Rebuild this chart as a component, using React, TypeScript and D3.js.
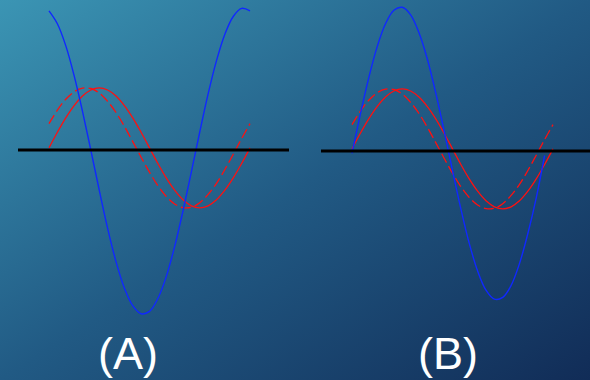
// Two panels of phase diagrams: (A) and (B), each with a large blue wave and
// two red waves (solid and dashed) drawn across one period over a black axis.
import React from 'react';
import * as d3 from 'd3';

const W = 590;
const H = 380;

const angles = [0, 15, 30, 45, 60, 75, 90, 105, 120, 135, 150, 165, 180,
  195, 210, 225, 240, 255, 270, 285, 300, 315, 330, 345, 360];

const panelLabels = ['(A)', '(B)'];

// panel A
const blueA = [4.64, 4.21, 3.48, 2.48, 1.29, -0.01, -1.34, -2.61, -3.72, -4.6, -5.19, -5.46, -5.38,
  -4.95, -4.22, -3.22, -2.03, -0.73, 0.6, 1.87, 2.98, 3.86, 4.45, 4.72, 4.64];
const redSolidA = [0.07, 0.59, 1.07, 1.48, 1.8, 2.0, 2.07, 2.0, 1.8, 1.48, 1.07, 0.59, 0.07,
  -0.45, -0.93, -1.34, -1.66, -1.86, -1.93, -1.86, -1.66, -1.34, -0.93, -0.45, 0.07];
const redDashA = [0.88, 1.33, 1.69, 1.94, 2.06, 2.05, 1.9, 1.62, 1.25, 0.79, 0.28, -0.24, -0.74,
  -1.19, -1.55, -1.8, -1.92, -1.91, -1.76, -1.48, -1.11, -0.65, -0.14, 0.38, 0.88];

// panel B (the blue wave stops a little short of the red ones)
const blueB = [-0.08, 1.23, 2.44, 3.47, 4.24, 4.69, 4.79, 4.54, 3.94, 3.06, 1.94, 0.67, -0.65,
  -1.93, -3.08, -4.0, -4.64, -4.94, -4.88, -4.48, -3.75, -2.75, -1.56, -0.15];
const redSolidB = [0.07, 0.59, 1.07, 1.48, 1.8, 2.0, 2.07, 2.0, 1.8, 1.48, 1.07, 0.59, 0.07,
  -0.45, -0.93, -1.34, -1.66, -1.86, -1.93, -1.86, -1.66, -1.34, -0.93, -0.45, 0.07];
const redDashB = [0.88, 1.33, 1.69, 1.94, 2.06, 2.05, 1.9, 1.62, 1.25, 0.79, 0.28, -0.24, -0.74,
  -1.19, -1.55, -1.8, -1.92, -1.91, -1.76, -1.48, -1.11, -0.65, -0.14, 0.38, 0.88];

const panels = [
  { label: panelLabels[0], blue: blueA, solid: redSolidA, dash: redDashA,
    x0: 49, x1: 250, axisX0: 18, axisX1: 289, axisY: 150, labelX: 128 },
  { label: panelLabels[1], blue: blueB, solid: redSolidB, dash: redDashB,
    x0: 352, x1: 553, axisX0: 321, axisX1: 592, axisY: 151, labelX: 448 },
];

function Panel({ p }) {
  const x = d3.scaleLinear().domain([0, 360]).range([p.x0, p.x1]);
  const y = d3.scaleLinear().domain([-1, 1]).range([p.axisY + 30, p.axisY - 30]);
  const line = d3.line<[number, number]>()
    .x(d => x(d[0]))
    .y(d => y(d[1]))
    .curve(d3.curveCatmullRom);
  const pts = (vals: number[]) => vals.map((v, i) => [angles[i], v] as [number, number]);

  return (
    <g>
      <path d={line(pts(p.solid)) || ''} fill="none" stroke="#ff1010" strokeWidth={1.3} />
      <path d={line(pts(p.dash)) || ''} fill="none" stroke="#ff1010" strokeWidth={1.3}
        strokeDasharray="10,4" />
      <path d={line(pts(p.blue)) || ''} fill="none" stroke="#1028ff" strokeWidth={1.4} />
      <line x1={p.axisX0} x2={p.axisX1} y1={p.axisY} y2={p.axisY} stroke="#000" strokeWidth={3} />
      <text x={p.labelX} y={369} fill="#fff" fontSize={45} textAnchor="middle"
        fontFamily="'Liberation Sans', Arial, sans-serif">{p.label}</text>
    </g>
  );
}

export default function App() {
  return (
    <svg width={W} height={H} style={{ position: 'fixed', top: 0, left: 0 }}>
      <defs>
        <linearGradient id="bg" x1="0" y1="0" x2="1" y2="1">
          <stop offset="0%" stopColor="#3b95b4" />
          <stop offset="50%" stopColor="#215a84" />
          <stop offset="100%" stopColor="#112c57" />
        </linearGradient>
      </defs>
      <rect width={W} height={H} fill="url(#bg)" />
      {panels.map(p => <Panel key={p.label} p={p} />)}
    </svg>
  );
}
